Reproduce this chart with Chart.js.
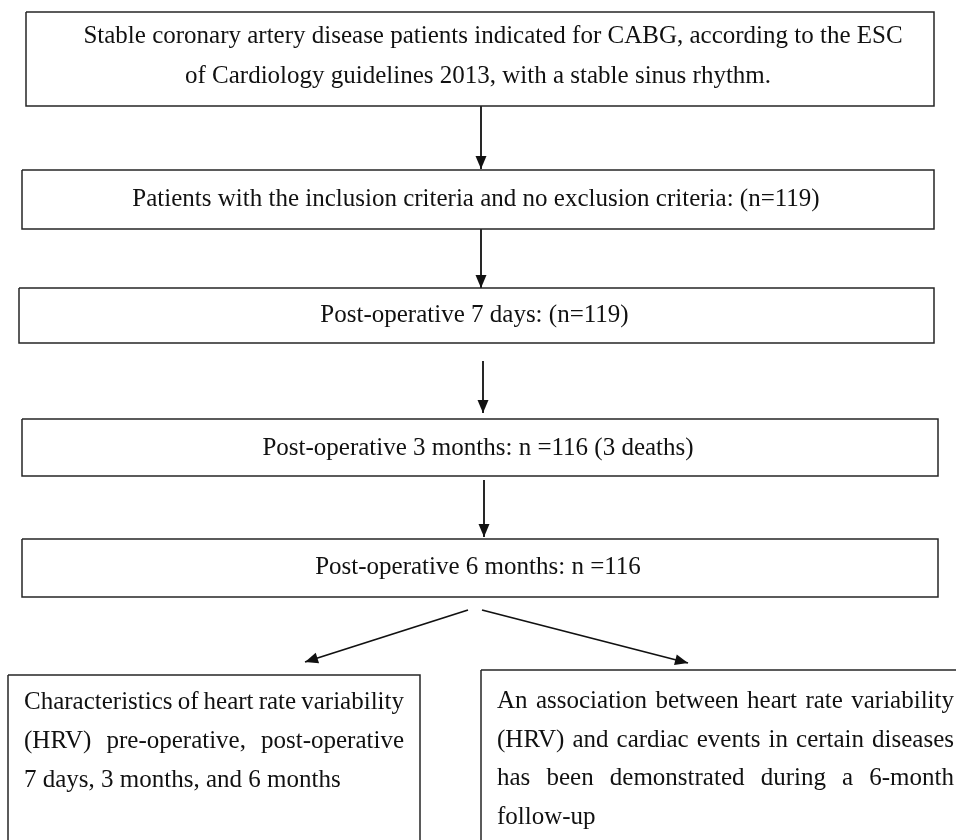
<!DOCTYPE html>
<html>
<head>
<meta charset="utf-8">
<title>Study flowchart</title>
<script src="https://cdn.jsdelivr.net/npm/chart.js@4.4.1/dist/chart.umd.min.js"></script>
<style>
    html, body { margin: 0; padding: 0; background: #ffffff; }
    #wrap { width: 956px; height: 840px; position: relative; }
</style>
</head>
<body>
<div id="wrap"><canvas id="flowChart"></canvas></div>
<script>
// ==================== DATOS ====================
// boxes (page units, y grows downward)
const boxLeft   = [26, 22, 19, 22, 22, 8, 481];
const boxRight  = [934, 934, 934, 938, 938, 420, 970];
const boxTop    = [12, 170, 288, 419, 539, 675, 670];
const boxBottom = [106, 229, 343, 476, 597, 870, 870];

const boxText = [
    ['Stable coronary artery disease patients indicated for CABG, according to the ESC',
     'of Cardiology guidelines 2013, with a stable sinus rhythm.'],
    ['Patients with the inclusion criteria and no exclusion criteria: (n=119)'],
    ['Post-operative 7 days: (n=119)'],
    ['Post-operative 3 months: n =116 (3 deaths)'],
    ['Post-operative 6 months: n =116'],
    ['Characteristics of heart rate variability',
     '(HRV)  pre-operative,  post-operative',
     '7 days, 3 months, and 6 months'],
    ['An association between heart rate variability',
     '(HRV) and cardiac events in certain diseases',
     'has been demonstrated during a 6-month',
     'follow-up']
];
const boxAlign = ['center', 'center', 'center', 'center', 'center', 'justify', 'justify'];
const firstBaseline = [43, 206, 322, 455, 574, 709, 708];
const lineGap = [40, 39, 39, 39, 39, 39, 38.5];
const firstIndent = [30, 0, 0, 0, 0, 0, 0];

// arrows: start -> tip
const arrowX1 = [481, 481, 483, 484, 468, 482];
const arrowY1 = [106, 229, 361, 480, 610, 610];
const arrowX2 = [481, 481, 483, 484, 305, 688];
const arrowY2 = [169, 288, 413, 537, 662, 663];

// ==================== CONFIGURACIÓN ====================
const FONT = '25px "Liberation Serif", "Times New Roman", serif';
const PAD = 16;
const INK = '#111111';

function boxDataset(i) {
    return {
        type: 'scatter',
        data: [
            { x: boxLeft[i], y: boxTop[i] },
            { x: boxRight[i], y: boxTop[i] },
            { x: boxRight[i], y: boxBottom[i] },
            { x: boxLeft[i], y: boxBottom[i] },
            { x: boxLeft[i], y: boxTop[i] }
        ],
        showLine: true,
        borderColor: '#262626',
        borderWidth: 1.5,
        pointRadius: 0,
        tension: 0,
        fill: false
    };
}

function arrowDataset(i) {
    return {
        type: 'scatter',
        data: [
            { x: arrowX1[i], y: arrowY1[i] },
            { x: arrowX2[i], y: arrowY2[i] }
        ],
        showLine: true,
        borderColor: INK,
        borderWidth: 1.8,
        pointRadius: 0,
        tension: 0,
        fill: false,
        isArrow: true
    };
}

// ==================== PLUGIN: PUNTAS Y TEXTO ====================
const flowPlugin = {
    id: 'flowPlugin',
    afterDatasetsDraw(chart) {
        const ctx = chart.ctx;
        const xs = chart.scales.x;
        const ys = chart.scales.y;

        // arrow heads
        chart.data.datasets.forEach((ds, di) => {
            if (!ds.isArrow) return;
            const pts = chart.getDatasetMeta(di).data;
            const a = pts[0], b = pts[1];
            const ang = Math.atan2(b.y - a.y, b.x - a.x);
            const len = 13, half = 5.5;
            ctx.save();
            ctx.translate(b.x, b.y);
            ctx.rotate(ang);
            ctx.beginPath();
            ctx.moveTo(0, 0);
            ctx.lineTo(-len, -half);
            ctx.lineTo(-len, half);
            ctx.closePath();
            ctx.fillStyle = INK;
            ctx.fill();
            ctx.restore();
        });

        // box texts
        ctx.save();
        ctx.font = FONT;
        ctx.fillStyle = INK;
        ctx.textBaseline = 'alphabetic';
        boxText.forEach((lines, i) => {
            const left = xs.getPixelForValue(boxLeft[i]);
            const right = xs.getPixelForValue(boxRight[i]);
            lines.forEach((line, li) => {
                const y = ys.getPixelForValue(firstBaseline[i] + li * lineGap[i]);
                if (boxAlign[i] === 'center') {
                    const indent = li === 0 ? firstIndent[i] : 0;
                    ctx.textAlign = 'center';
                    ctx.fillText(line, (left + right) / 2 - 2 + indent / 2, y);
                } else {
                    drawJustified(ctx, line, left + PAD, right - PAD, y, li === lines.length - 1);
                }
            });
        });
        ctx.restore();
    }
};

function drawJustified(ctx, line, x0, x1, y, lastLine) {
    ctx.textAlign = 'left';
    const words = line.split(/\s+/);
    if (lastLine || words.length < 2) {
        ctx.fillText(line, x0, y);
        return;
    }
    const widths = words.map(w => ctx.measureText(w).width);
    const used = widths.reduce((s, w) => s + w, 0);
    const gap = (x1 - x0 - used) / (words.length - 1);
    let x = x0;
    words.forEach((w, k) => {
        ctx.fillText(w, x, y);
        x += widths[k] + gap;
    });
}

// ==================== INICIALIZACIÓN ====================
const datasets = [];
boxLeft.forEach((_, i) => datasets.push(boxDataset(i)));
arrowX1.forEach((_, i) => datasets.push(arrowDataset(i)));

new Chart(document.getElementById('flowChart').getContext('2d'), {
    type: 'scatter',
    data: { datasets: datasets },
    options: {
        responsive: true,
        maintainAspectRatio: false,
        animation: false,
        events: [],
        layout: { padding: 0 },
        plugins: {
            legend: { display: false },
            tooltip: { enabled: false }
        },
        scales: {
            x: { type: 'linear', min: 0, max: 956, display: false },
            y: { type: 'linear', min: 0, max: 840, reverse: true, display: false }
        }
    },
    plugins: [flowPlugin]
});
</script>
</body>
</html>
